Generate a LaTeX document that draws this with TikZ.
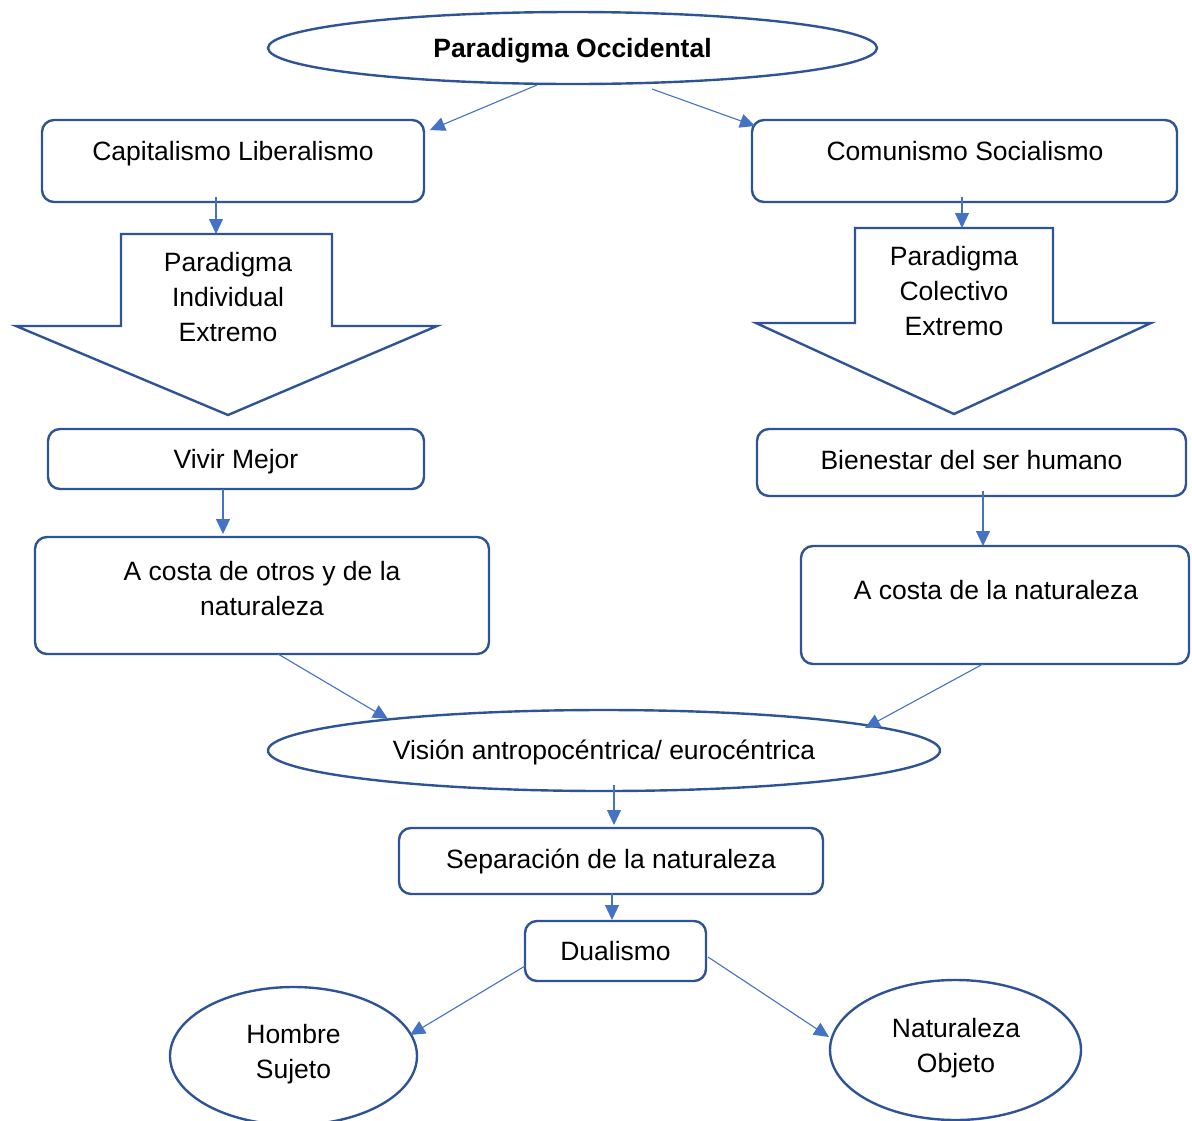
\documentclass[tikz,border=0pt]{standalone}
\usepackage{fontspec}
\setmainfont{Liberation Sans}
\usetikzlibrary{shapes.geometric,arrows.meta,calc}
\definecolor{boxblue}{HTML}{2F5496}
\definecolor{arrblue}{HTML}{4472C4}
\begin{document}
\begin{tikzpicture}[x=1pt,y=-1pt,
  every node/.style={font=\fontsize{26.5}{35}\selectfont, inner sep=0pt, outer sep=0pt},
  rbox/.style={draw=boxblue, line width=2.4pt, rounded corners=12pt, rectangle},
  oval/.style={draw=boxblue, line width=2.4pt, ellipse},
  blk/.style={draw=boxblue, line width=2.4pt, line join=miter},
  conn/.style={draw=arrblue, line width=1.1pt, -{Triangle[length=15pt,width=14pt]}},
  lbl/.style={anchor=base, align=center},
  mlbl/.style={anchor=center, align=center}
]
\useasboundingbox (0,0) rectangle (1192,1120);

% top ellipse
\node[oval, minimum width=609, minimum height=72] (po) at (572.5,48) {};
\node[lbl, font=\bfseries\fontsize{26.5}{35}\selectfont] (poT) at (572.5,57) {Paradigma Occidental};

% first level boxes
\node[rbox, minimum width=382, minimum height=82] (cap) at (233,161) {};
\node[lbl] (capT) at (233,160) {Capitalismo Liberalismo};
\node[rbox, minimum width=425, minimum height=82] (com) at (964.5,161) {};
\node[lbl] (comT) at (965,160) {Comunismo Socialismo};

% block arrows
\draw[blk] (121,234) -- (332,234) -- (332,326) -- (437,326) -- (228,415) -- (16,326) -- (121,326) -- cycle;
\node[minimum width=211, minimum height=92] (pie) at (226.5,280) {};
\node[mlbl] (pieT) at (228,297) {Paradigma\\Individual\\Extremo};
\draw[blk] (855,228) -- (1053,228) -- (1053,323) -- (1151,323) -- (954,414) -- (756,323) -- (855,323) -- cycle;
\node[minimum width=198, minimum height=95] (pce) at (954,275.5) {};
\node[mlbl] (pceT) at (954,291) {Paradigma\\Colectivo\\Extremo};

% second level
\node[rbox, minimum width=376, minimum height=60] (viv) at (236,459) {};
\node[lbl] (vivT) at (236,468) {Vivir Mejor};
\node[rbox, minimum width=429, minimum height=67] (bie) at (971.5,462.5) {};
\node[lbl] (bieT) at (971.5,469) {Bienestar del ser humano};

\node[rbox, minimum width=454, minimum height=117] (aco) at (262,595.5) {};
\node[mlbl] (acoT) at (262,588.5) {A costa de otros y de la\\naturaleza};
\node[rbox, minimum width=388, minimum height=118] (acn) at (995,605) {};
\node[lbl] (acnT) at (996,599) {A costa de la naturaleza};

% vision ellipse
\node[oval, minimum width=672, minimum height=81] (vis) at (604,750.5) {};
\node[lbl] (visT) at (604,759) {Visión antropocéntrica/ eurocéntrica};

\node[rbox, minimum width=424, minimum height=66] (sep) at (611,861) {};
\node[lbl] (sepT) at (611,868) {Separación de la naturaleza};
\node[rbox, minimum width=181, minimum height=60] (dua) at (615.5,951) {};
\node[lbl] (duaT) at (615.5,960) {Dualismo};

\node[oval, minimum width=247, minimum height=138] (hom) at (293.5,1056) {};
\node[mlbl] (homT) at (293.5,1054) {Hombre\\Sujeto};
\node[oval, minimum width=251, minimum height=140] (nat) at (955.5,1050) {};
\node[mlbl] (natT) at (956,1048) {Naturaleza\\Objeto};

% connectors
\draw[conn] ($(po.south)+(-35.5,1)$) -- ($(cap.north east)+(6,10)$);
\draw[conn] ($(po.south)+(79.5,5)$) -- ($(com.north west)+(3,6)$);
\draw[conn] ($(cap.south)+(-17,-5)$) -- ($(pie.north)+(-10.5,0)$);
\draw[conn] ($(com.south)+(-2.5,-5)$) -- ($(pce.north)+(8,0)$);
\draw[conn] ($(viv.south)+(-13,0)$) -- ($(aco.north)+(-39,-3)$);
\draw[conn] ($(bie.south)+(11.5,-5)$) -- ($(acn.north)+(-12,0)$);
\draw[conn] ($(aco.south)+(16,0)$) -- ($(vis.north)+(-216,9)$);
\draw[conn] ($(acn.south)+(-12,0)$) -- ($(vis.north)+(261,18)$);
\draw[conn] ($(vis.south)+(10,-6)$) -- ($(sep.north)+(3,-3)$);
\draw[conn] ($(sep.south)+(1,-1)$) -- ($(dua.north)+(-3.5,-1)$);
\draw[conn] ($(dua.west)+(0,15)$) -- ($(hom.east)+(-7,-21)$);
\draw[conn] ($(dua.east)+(2,6)$) -- ($(nat.west)+(-1,-13)$);
\end{tikzpicture}
\end{document}
